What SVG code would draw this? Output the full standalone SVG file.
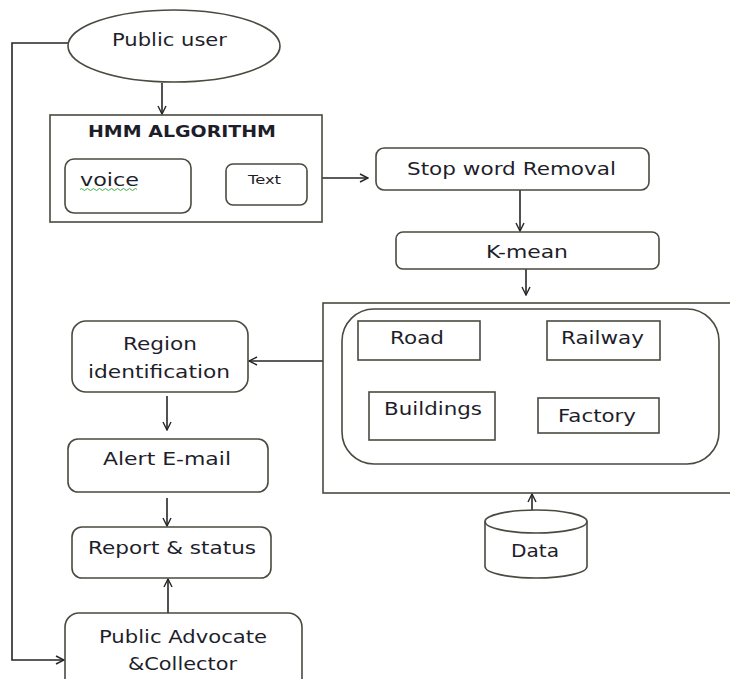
<svg xmlns="http://www.w3.org/2000/svg" width="730" height="679" viewBox="0 0 730 679">
<style>
.box{fill:#fff;stroke:#4a4a40;stroke-width:1.6}
.ln{fill:none;stroke:#262626;stroke-width:1.6}
.t{font-family:"DejaVu Sans","Liberation Sans",sans-serif;font-size:17px;fill:#1e1e2a;text-anchor:start}
.b{font-weight:bold;font-size:15px}
</style>
<defs>
<marker id="ah" viewBox="0 0 10 10" refX="9" refY="5" markerWidth="10" markerHeight="10" markerUnits="userSpaceOnUse" orient="auto">
<path d="M1,1 L9,5 L1,9" fill="none" stroke="#262626" stroke-width="1.4"/>
</marker>
</defs>
<rect width="730" height="679" fill="#fff"/>
<g id="connectors">
<path class="ln" d="M68,43 H12 V660 H64" marker-end="url(#ah)"/>
<path class="ln" d="M162,83 V114" marker-end="url(#ah)"/>
<path class="ln" d="M189,190 H225" marker-end="url(#ah)"/>
<path class="ln" d="M319,178 H368" marker-end="url(#ah)"/>
<path class="ln" d="M520,190 V231" marker-end="url(#ah)"/>
<path class="ln" d="M526,269 V295" marker-end="url(#ah)"/>
<path class="ln" d="M323,361 H249" marker-end="url(#ah)"/>
<path class="ln" d="M167,396 V430" marker-end="url(#ah)"/>
<path class="ln" d="M167,498 V526" marker-end="url(#ah)"/>
<path class="ln" d="M168,613 V579" marker-end="url(#ah)"/>
<path class="ln" d="M532,510 V494" marker-end="url(#ah)"/>
</g>
<g id="public-user">
<ellipse class="box" cx="174" cy="46" rx="106" ry="36"/>
<text class="t" x="112" y="46" textLength="115" lengthAdjust="spacingAndGlyphs">Public user</text>
</g>
<g id="hmm">
<rect class="box" x="50" y="115" width="272" height="107"/>
<text class="t b" x="88" y="137" textLength="188" lengthAdjust="spacingAndGlyphs">HMM ALGORITHM</text>
</g>
<g id="voice">
<rect class="box" x="65" y="159" width="126" height="54" rx="9"/>
<text class="t" x="80" y="186" textLength="59" lengthAdjust="spacingAndGlyphs">voice</text>
<path d="M80,189.5 q1.5,-2 3,0 t3,0 t3,0 t3,0 t3,0 t3,0 t3,0 t3,0 t3,0 t3,0 t3,0 t3,0 t3,0 t3,0 t3,0 t3,0 t3,0 t3,0 t3,0" fill="none" stroke="#3cb043" stroke-width="1"/>
</g>
<g id="text-node">
<rect class="box" x="226" y="164" width="81" height="41" rx="7"/>
<text class="t" x="248" y="184" font-size="12" textLength="33" lengthAdjust="spacingAndGlyphs" style="font-size:12px">Text</text>
</g>
<g id="stopword">
<rect class="box" x="376" y="148" width="273" height="42" rx="8"/>
<text class="t" x="407" y="175" textLength="209" lengthAdjust="spacingAndGlyphs">Stop word Removal</text>
</g>
<g id="kmean">
<rect class="box" x="396" y="232" width="263" height="37" rx="7"/>
<text class="t" x="486" y="258" textLength="82" lengthAdjust="spacingAndGlyphs">K-mean</text>
</g>
<g id="categories">
<rect class="box" x="323" y="303" width="420" height="190"/>
<rect class="box" x="342" y="309" width="377" height="155" rx="32"/>
</g>
<g id="road">
<rect class="box" x="358" y="321" width="122" height="39"/>
<text class="t" x="390" y="344" textLength="54" lengthAdjust="spacingAndGlyphs">Road</text>
</g>
<g id="railway">
<rect class="box" x="547" y="321" width="113" height="39"/>
<text class="t" x="561" y="344" textLength="83" lengthAdjust="spacingAndGlyphs">Railway</text>
</g>
<g id="buildings">
<rect class="box" x="369" y="392" width="126" height="48"/>
<text class="t" x="384" y="415" textLength="98" lengthAdjust="spacingAndGlyphs">Buildings</text>
</g>
<g id="factory">
<rect class="box" x="538" y="398" width="121" height="35"/>
<text class="t" x="558" y="422" textLength="78" lengthAdjust="spacingAndGlyphs">Factory</text>
</g>
<g id="region">
<rect class="box" x="72" y="321" width="176" height="71" rx="14"/>
<text class="t" x="123" y="350" textLength="74" lengthAdjust="spacingAndGlyphs">Region</text>
<text class="t" x="88" y="378" textLength="142" lengthAdjust="spacingAndGlyphs">identification</text>
</g>
<g id="alert">
<rect class="box" x="68" y="439" width="200" height="53" rx="10"/>
<text class="t" x="103" y="465" textLength="128" lengthAdjust="spacingAndGlyphs">Alert E-mail</text>
</g>
<g id="report">
<rect class="box" x="72" y="527" width="199" height="51" rx="10"/>
<text class="t" x="88" y="554" textLength="168" lengthAdjust="spacingAndGlyphs">Report &amp; status</text>
</g>
<g id="advocate">
<rect class="box" x="65" y="613" width="237" height="80" rx="14"/>
<text class="t" x="99" y="643" textLength="168" lengthAdjust="spacingAndGlyphs">Public Advocate</text>
<text class="t" x="128" y="670" textLength="109" lengthAdjust="spacingAndGlyphs">&amp;Collector</text>
</g>
<g id="data">
<path class="box" d="M485,521.5 V566.5 A51,11.5 0 0 0 587,566.5 V521.5"/>
<ellipse class="box" cx="536" cy="521.5" rx="51" ry="11.5"/>
<text class="t" x="511" y="557" textLength="48" lengthAdjust="spacingAndGlyphs">Data</text>
</g>
</svg>
